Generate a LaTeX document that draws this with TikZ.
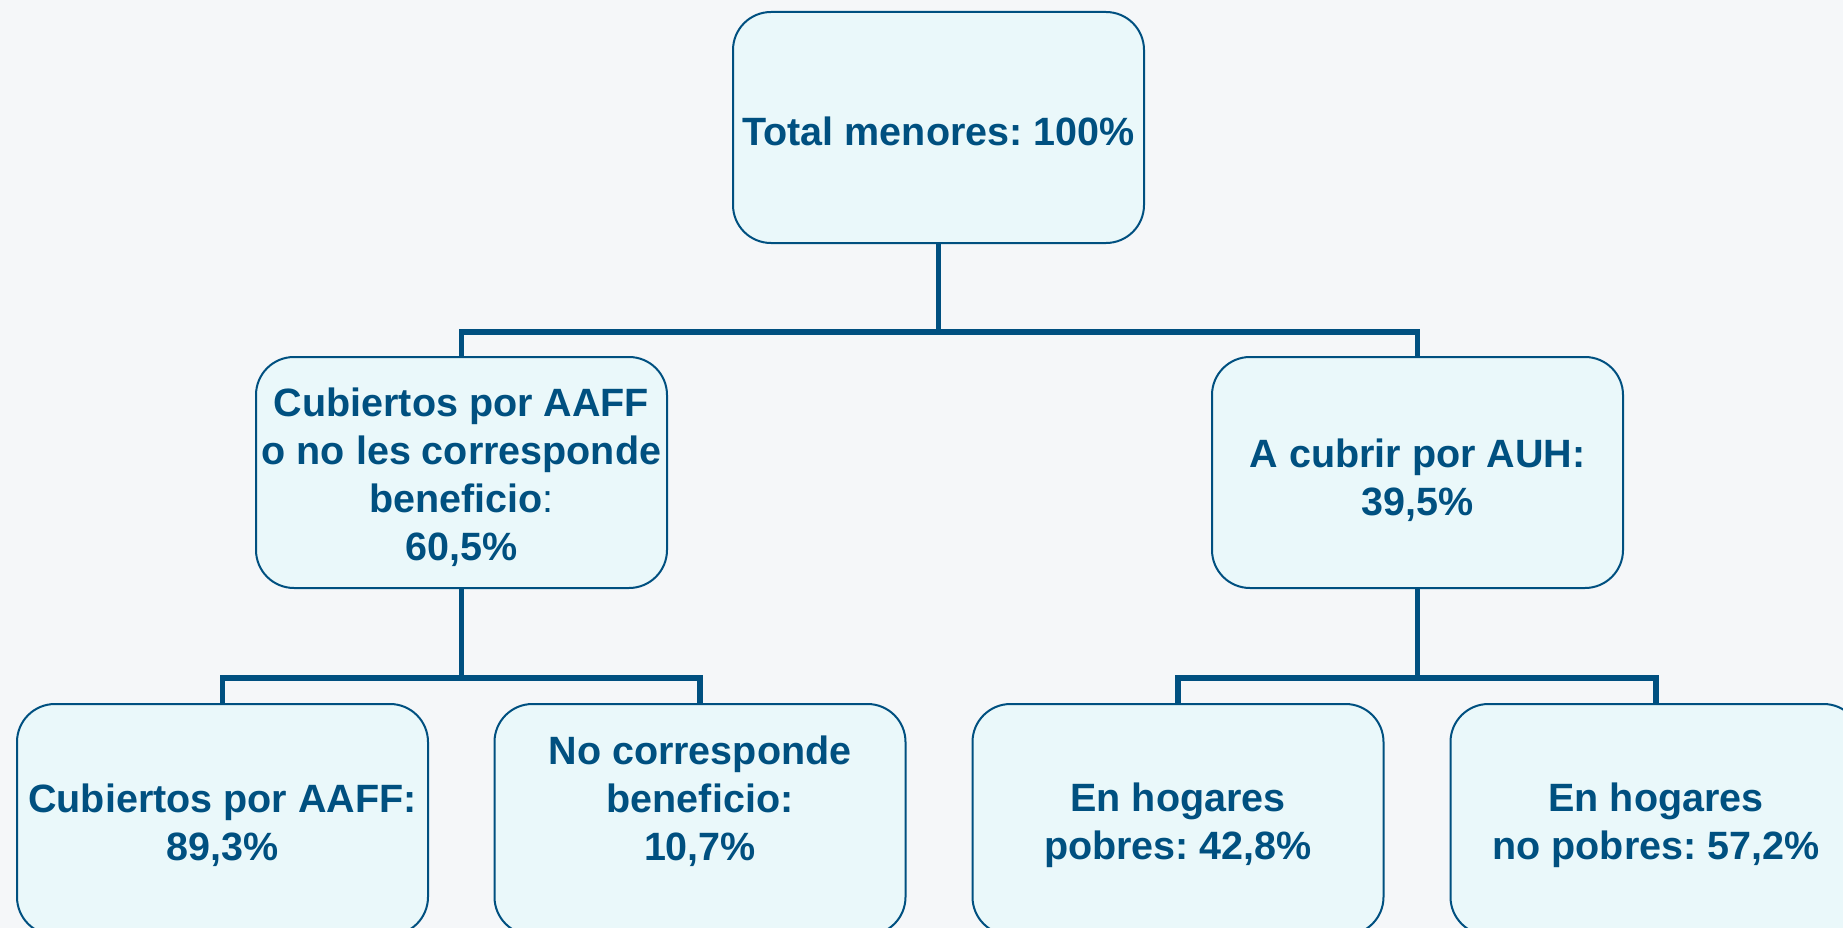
\documentclass[tikz,border=0pt]{standalone}
\usepackage{fontspec}
\setmainfont{Liberation Sans}
\definecolor{dblue}{RGB}{0,80,128}
\definecolor{lfill}{RGB}{234,248,250}
\definecolor{bgc}{RGB}{245,247,249}
\frenchspacing
\begin{document}
\begin{tikzpicture}[x=1pt,y=-1pt,
  box/.style={draw=dblue, line width=2pt, fill=lfill, rounded corners=38pt,
    minimum width=411pt, minimum height=231pt, inner sep=0pt},
  boxtext/.style={inner sep=0pt, align=center, text=dblue,
    font=\fontsize{39.5}{48}\selectfont\bfseries},
  conn/.style={draw=dblue, line width=5.5pt, line join=miter}]
\fill[bgc] (0,0) rectangle (1843,928);
\useasboundingbox (0,0) rectangle (1843,928);
\clip (0,0) rectangle (1843,928);

\node[box] (top)  at (938.5,127.5) {};
\node[box] (midL) at (461.5,472.5) {};
\node[box] (midR) at (1417.5,472.5) {};
\node[box] (botA) at (222.5,819.5) {};
\node[box] (botB) at (700,819.5) {};
\node[box] (botC) at (1178,819.5) {};
\node[box] (botD) at (1656,819.5) {};

\node[boxtext] (topt)  at (938.5,131) {Total menores: 100\%};
\node[boxtext] (midLt) at (461.5,477) {Cubiertos por AAFF\\o no les corresponde\\beneficio{\mdseries :}\\60,5\%};
\node[boxtext] (midRt) at (1417.5,480) {A cubrir por AUH:\\39,5\%};
\node[boxtext] (botAt) at (222.5,825) {Cubiertos por AAFF:\\89,3\%};
\node[boxtext] (botBt) at (700,801) {No corresponde\\beneficio:\\10,7\%};
\node[boxtext] (botCt) at (1178,825) {En hogares\\pobres: 42,8\%};
\node[boxtext] (botDt) at (1656,825) {En hogares\\no pobres: 57,2\%};

\coordinate (j1) at (938.5,332);
\coordinate (j2) at (461.5,678);
\coordinate (j3) at (1417.5,678);

\draw[conn] (top.south) -- (j1);
\draw[conn] (midL.north) |- (j1) -| (midR.north);
\draw[conn] (midL.south) -- (j2);
\draw[conn] (botA.north) |- (j2) -| (botB.north);
\draw[conn] (midR.south) -- (j3);
\draw[conn] (botC.north) |- (j3) -| (botD.north);
\end{tikzpicture}
\end{document}
